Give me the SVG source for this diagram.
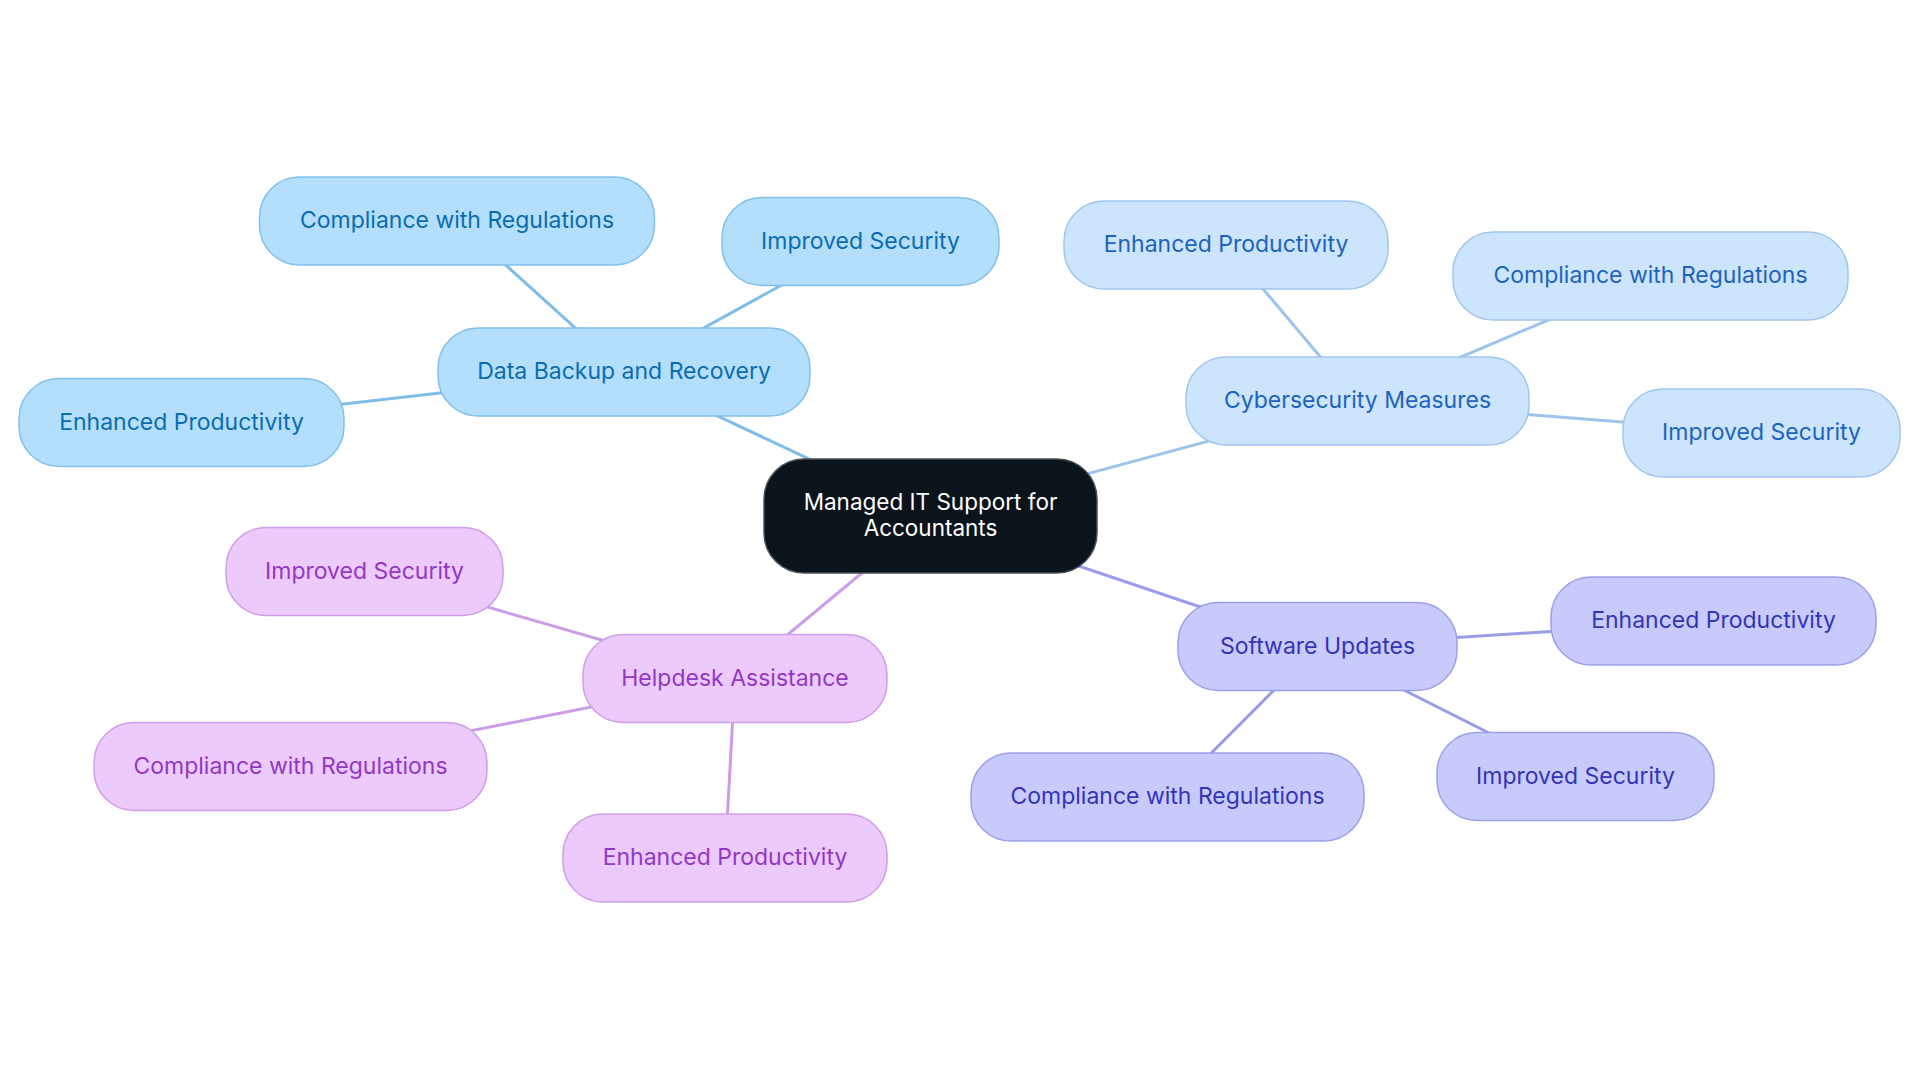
<svg xmlns="http://www.w3.org/2000/svg" width="1920" height="1083" viewBox="0 0 1920 1083">
<style>
text{font-family:Inter,"Noto Sans","Liberation Sans",sans-serif;font-size:23px;text-anchor:middle}
.root text{font-size:22.5px}
.n rect{stroke-width:1.5}
.b rect{fill:#b3dffc;stroke:#82c0ea}.b text{fill:#0b6cb1}
.c rect{fill:#cce4fc;stroke:#a0c6ee}.c text{fill:#1d63bf}
.s rect{fill:#c8cafc;stroke:#9c9fea}.s text{fill:#3334b8}
.h rect{fill:#eccafc;stroke:#d09ee9}.h text{fill:#9237c6}
.root rect{fill:#0b131b;stroke:#4a5058;stroke-width:1.5}.root text{fill:#ffffff}
#edges line{stroke-width:3;fill:none}
.eb{stroke:#7ebde8}.ec{stroke:#9ec4ec}.es{stroke:#9a9ce8}.eh{stroke:#cd9ce8}
</style>
<rect width="1920" height="1083" fill="#ffffff"/>
<g id="edges">
<line class="eb" x1="930.5" y1="516" x2="624" y2="372"/>
<line class="eb" x1="624" y1="372" x2="457" y2="221"/>
<line class="eb" x1="624" y1="372" x2="860.5" y2="241.5"/>
<line class="eb" x1="624" y1="372" x2="181.5" y2="422.5"/>
<line class="ec" x1="930.5" y1="516" x2="1357.5" y2="401"/>
<line class="ec" x1="1357.5" y1="401" x2="1226" y2="245"/>
<line class="ec" x1="1357.5" y1="401" x2="1652" y2="276"/>
<line class="ec" x1="1357.5" y1="401" x2="1761.5" y2="433"/>
<line class="es" x1="930.5" y1="516" x2="1317.5" y2="646.5"/>
<line class="es" x1="1317.5" y1="646.5" x2="1713.5" y2="621"/>
<line class="es" x1="1317.5" y1="646.5" x2="1575.5" y2="776.5"/>
<line class="es" x1="1317.5" y1="646.5" x2="1167.5" y2="797"/>
<line class="eh" x1="930.5" y1="516" x2="735" y2="678.5"/>
<line class="eh" x1="735" y1="678.5" x2="364.5" y2="571.5"/>
<line class="eh" x1="735" y1="678.5" x2="290.5" y2="766.5"/>
<line class="eh" x1="735" y1="678.5" x2="725" y2="858"/>
</g>
<g id="root" class="root"><rect x="764" y="459" width="333" height="114" rx="40"/><text x="930.5" y="510">Managed IT Support for</text><text x="930.5" y="536">Accountants</text></g>
<g id="backup" class="n b"><rect x="438" y="328" width="372" height="88" rx="40"/><text x="624" y="379">Data Backup and Recovery</text></g>
<g id="backup-compliance" class="n b"><rect x="259.5" y="177" width="395" height="88" rx="40"/><text x="457" y="228">Compliance with Regulations</text></g>
<g id="backup-security" class="n b"><rect x="722" y="197.5" width="277" height="88" rx="40"/><text x="860.5" y="248.5">Improved Security</text></g>
<g id="backup-productivity" class="n b"><rect x="19" y="378.5" width="325" height="88" rx="40"/><text x="181.5" y="429.5">Enhanced Productivity</text></g>
<g id="cyber" class="n c"><rect x="1186" y="357" width="343" height="88" rx="40"/><text x="1357.5" y="408">Cybersecurity Measures</text></g>
<g id="cyber-productivity" class="n c"><rect x="1064" y="201" width="324" height="88" rx="40"/><text x="1226" y="252">Enhanced Productivity</text></g>
<g id="cyber-compliance" class="n c"><rect x="1453" y="232" width="395" height="88" rx="40"/><text x="1650.5" y="283">Compliance with Regulations</text></g>
<g id="cyber-security" class="n c"><rect x="1623" y="389" width="277" height="88" rx="40"/><text x="1761.5" y="440">Improved Security</text></g>
<g id="software" class="n s"><rect x="1178" y="602.5" width="279" height="88" rx="40"/><text x="1317.5" y="653.5">Software Updates</text></g>
<g id="software-productivity" class="n s"><rect x="1551" y="577" width="325" height="88" rx="40"/><text x="1713.5" y="628">Enhanced Productivity</text></g>
<g id="software-security" class="n s"><rect x="1437" y="732.5" width="277" height="88" rx="40"/><text x="1575.5" y="783.5">Improved Security</text></g>
<g id="software-compliance" class="n s"><rect x="971" y="753" width="393" height="88" rx="40"/><text x="1167.5" y="804">Compliance with Regulations</text></g>
<g id="helpdesk" class="n h"><rect x="583" y="634.5" width="304" height="88" rx="40"/><text x="735" y="685.5">Helpdesk Assistance</text></g>
<g id="helpdesk-security" class="n h"><rect x="226" y="527.5" width="277" height="88" rx="40"/><text x="364.5" y="578.5">Improved Security</text></g>
<g id="helpdesk-compliance" class="n h"><rect x="94" y="722.5" width="393" height="88" rx="40"/><text x="290.5" y="773.5">Compliance with Regulations</text></g>
<g id="helpdesk-productivity" class="n h"><rect x="563" y="814" width="324" height="88" rx="40"/><text x="725" y="865">Enhanced Productivity</text></g>
</svg>
